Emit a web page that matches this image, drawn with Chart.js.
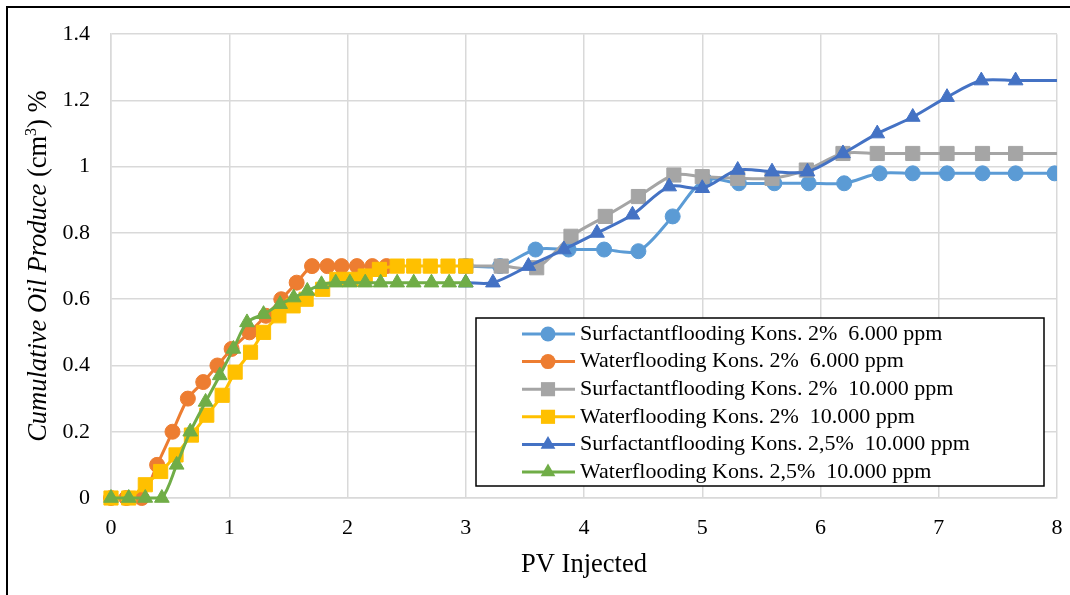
<html>
<head>
<meta charset="utf-8">
<script src="https://cdn.jsdelivr.net/npm/chart.js"></script>
<title>Cumulative Oil Produce</title>
<style>
  body { margin: 0; overflow: hidden; background: #fff; }
  #frame { position: absolute; left: 6px; top: 6px; width: 1100px; height: 700px; border: 2px solid #000; }
  #wrap { position: absolute; left: 0; top: 0; width: 1070px; height: 595px; }
</style>
</head>
<body>
<div id="frame"></div>
<div id="wrap"><canvas id="oil" width="1070" height="595"></canvas></div>
<script>
// PV injected / cumulative oil per run
const pvSurf6000 = [3.0, 3.29, 3.59, 3.87, 4.17, 4.46, 4.75, 5.02, 5.31, 5.61, 5.90, 6.20, 6.50, 6.78, 7.07, 7.37, 7.65, 7.98];
const oilSurf6000 = [0.70, 0.70, 0.75, 0.75, 0.75, 0.745, 0.85, 0.96, 0.95, 0.95, 0.95, 0.95, 0.98, 0.98, 0.98, 0.98, 0.98, 0.98];

const pvWater6000 = [0, 0.13, 0.26, 0.39, 0.52, 0.65, 0.78, 0.90, 1.02, 1.17, 1.31, 1.44, 1.57, 1.70, 1.83, 1.95, 2.08, 2.21, 2.33];
const oilWater6000 = [0, 0, 0, 0.10, 0.20, 0.30, 0.35, 0.40, 0.45, 0.50, 0.55, 0.60, 0.65, 0.70, 0.70, 0.70, 0.70, 0.70, 0.70];

const pvSurf10000 = [3.0, 3.30, 3.60, 3.89, 4.18, 4.46, 4.76, 5.0, 5.30, 5.59, 5.88, 6.19, 6.48, 6.78, 7.07, 7.37, 7.65, 8.2];
const oilSurf10000 = [0.70, 0.70, 0.695, 0.79, 0.85, 0.91, 0.975, 0.97, 0.965, 0.965, 0.99, 1.04, 1.04, 1.04, 1.04, 1.04, 1.04, 1.04];

const pvWater10000 = [0, 0.15, 0.29, 0.42, 0.55, 0.68, 0.81, 0.94, 1.05, 1.18, 1.29, 1.42, 1.54, 1.65, 1.79, 1.91, 2.03, 2.15, 2.27, 2.42, 2.56, 2.70, 2.85, 3.0];
const oilWater10000 = [0, 0, 0.04, 0.08, 0.13, 0.19, 0.25, 0.31, 0.38, 0.44, 0.50, 0.55, 0.58, 0.60, 0.63, 0.66, 0.66, 0.67, 0.69, 0.70, 0.70, 0.70, 0.70, 0.70];

const pvSurf25 = [3.0, 3.23, 3.53, 3.83, 4.11, 4.41, 4.72, 5.0, 5.30, 5.59, 5.89, 6.19, 6.48, 6.78, 7.07, 7.36, 7.65, 8.2];
const oilSurf25 = [0.65, 0.65, 0.70, 0.75, 0.80, 0.855, 0.94, 0.935, 0.99, 0.985, 0.985, 1.04, 1.10, 1.15, 1.21, 1.26, 1.26, 1.26];

const pvWater25 = [0, 0.15, 0.29, 0.43, 0.555, 0.67, 0.80, 0.92, 1.035, 1.15, 1.29, 1.43, 1.545, 1.66, 1.78, 1.90, 2.02, 2.15, 2.28, 2.42, 2.56, 2.71, 2.86, 3.0];
const oilWater25 = [0, 0, 0, 0, 0.10, 0.20, 0.29, 0.37, 0.45, 0.53, 0.555, 0.585, 0.605, 0.625, 0.645, 0.65, 0.65, 0.65, 0.65, 0.65, 0.65, 0.65, 0.65, 0.65];

const seriesNames = [
  'Surfactantflooding Kons. 2%  6.000 ppm',
  'Waterflooding Kons. 2%  6.000 ppm',
  'Surfactantflooding Kons. 2%  10.000 ppm',
  'Waterflooding Kons. 2%  10.000 ppm',
  'Surfactantflooding Kons. 2,5%  10.000 ppm',
  'Waterflooding Kons. 2,5%  10.000 ppm'
];
const seriesColors = ['#5B9BD5', '#ED7D31', '#A5A5A5', '#FFC000', '#4472C4', '#70AD47'];
const seriesMarkers = ['circle', 'circle', 'rect', 'rect', 'triangle', 'triangle'];
const markerSize = { circle: 7.5, rect: 10, triangle: 8.5 };

const serif = '"Liberation Serif", "Times New Roman", serif';

function pairs(xs, ys) {
  return xs.map((x, i) => ({ x: x, y: ys[i] }));
}

const runs = [
  pairs(pvSurf6000, oilSurf6000),
  pairs(pvWater6000, oilWater6000),
  pairs(pvSurf10000, oilSurf10000),
  pairs(pvWater10000, oilWater10000),
  pairs(pvSurf25, oilSurf25),
  pairs(pvWater25, oilWater25)
];

// same marker shapes as chart.js uses
function marker(ctx, style, x, y, r) {
  ctx.beginPath();
  if (style === 'circle') {
    ctx.arc(x, y, r, 0, Math.PI * 2);
  } else if (style === 'rect') {
    const s = Math.SQRT1_2 * r;
    ctx.rect(x - s, y - s, 2 * s, 2 * s);
  } else {
    let a = 0;
    ctx.moveTo(x + Math.sin(a) * r, y - Math.cos(a) * r);
    a += 2 * Math.PI / 3;
    ctx.lineTo(x + Math.sin(a) * r, y - Math.cos(a) * r);
    a += 2 * Math.PI / 3;
    ctx.lineTo(x + Math.sin(a) * r, y - Math.cos(a) * r);
  }
  ctx.closePath();
  ctx.fill();
}

const legendBox = {
  id: 'legendBox',
  afterDatasetsDraw(chart) {
    const ctx = chart.ctx, a = chart.chartArea;
    const w = 568, h = 168;
    const x0 = a.right - 13 - w, y0 = a.bottom - 12 - h;
    ctx.save();
    ctx.fillStyle = '#fff';
    ctx.fillRect(x0, y0, w, h);
    ctx.strokeStyle = '#000';
    ctx.lineWidth = 1.5;
    ctx.strokeRect(x0, y0, w, h);
    ctx.font = '22px ' + serif;
    ctx.textBaseline = 'middle';
    seriesNames.forEach((name, i) => {
      const y = y0 + 16 + i * 27.6;
      ctx.strokeStyle = seriesColors[i];
      ctx.lineWidth = 3;
      ctx.beginPath();
      ctx.moveTo(x0 + 46, y);
      ctx.lineTo(x0 + 99, y);
      ctx.stroke();
      ctx.fillStyle = seriesColors[i];
      marker(ctx, seriesMarkers[i], x0 + 72, y, markerSize[seriesMarkers[i]]);
      ctx.fillStyle = '#000';
      ctx.fillText(name, x0 + 104, y);
    });
    ctx.restore();
  }
};

// y title: italic words, then (cm3) % with a raised 3
const yTitle = {
  id: 'yTitle',
  afterDraw(chart) {
    const ctx = chart.ctx, a = chart.chartArea;
    const parts = [
      { t: 'Cumulative Oil Produce ', f: 'italic 26.5px ' + serif, up: 0 },
      { t: '(cm', f: '26.5px ' + serif, up: 0 },
      { t: '3', f: '16px ' + serif, up: 10 },
      { t: ') %', f: '26.5px ' + serif, up: 0 }
    ];
    ctx.save();
    let total = 0;
    parts.forEach(p => { ctx.font = p.f; p.w = ctx.measureText(p.t).width; total += p.w; });
    ctx.translate(46, (a.top + a.bottom) / 2);
    ctx.rotate(-Math.PI / 2);
    ctx.fillStyle = '#000';
    ctx.textBaseline = 'alphabetic';
    let x = -total / 2;
    parts.forEach(p => { ctx.font = p.f; ctx.fillText(p.t, x, -p.up); x += p.w; });
    ctx.restore();
  }
};

new Chart(document.getElementById('oil'), {
  type: 'line',
  data: {
    datasets: runs.map((pts, i) => ({
      label: seriesNames[i],
      data: pts,
      borderColor: seriesColors[i],
      backgroundColor: seriesColors[i],
      borderWidth: 3,
      tension: 0.3,
      pointStyle: seriesMarkers[i],
      pointRadius: markerSize[seriesMarkers[i]],
      pointBackgroundColor: seriesColors[i],
      pointBorderColor: seriesColors[i],
      pointBorderWidth: 1,
      clip: { left: 14, top: 14, right: 0, bottom: 14 },
      order: 5 - i
    }))
  },
  options: {
    responsive: false,
    animation: false,
    layout: { padding: { left: 0, top: 32, right: 13, bottom: 0 } },
    plugins: { legend: { display: false }, tooltip: { enabled: false } },
    scales: {
      x: {
        type: 'linear',
        min: 0,
        max: 8,
        // the last tick label fits inside the right padding
        afterFit: s => { s.height = 97; s.paddingLeft = 0; s.paddingRight = 0; },
        grid: { color: '#D9D9D9', lineWidth: 1.5, drawTicks: false },
        border: { color: '#D9D9D9', width: 1.5 },
        ticks: { stepSize: 1, padding: 17, color: '#000', font: { family: serif, size: 22 } },
        title: { display: true, text: 'PV Injected', color: '#000', font: { family: serif, size: 26.5 }, padding: { bottom: 14 } }
      },
      y: {
        min: 0,
        max: 1.4,
        afterFit: s => { s.width = 111; },
        grid: { color: '#D9D9D9', lineWidth: 1.5, drawTicks: false },
        border: { color: '#D9D9D9', width: 1.5 },
        ticks: {
          stepSize: 0.2,
          padding: 21,
          color: '#000',
          font: { family: serif, size: 22 },
          callback: v => String(+v.toFixed(1))
        }
      }
    }
  },
  plugins: [legendBox, yTitle]
});
</script>
</body>
</html>
